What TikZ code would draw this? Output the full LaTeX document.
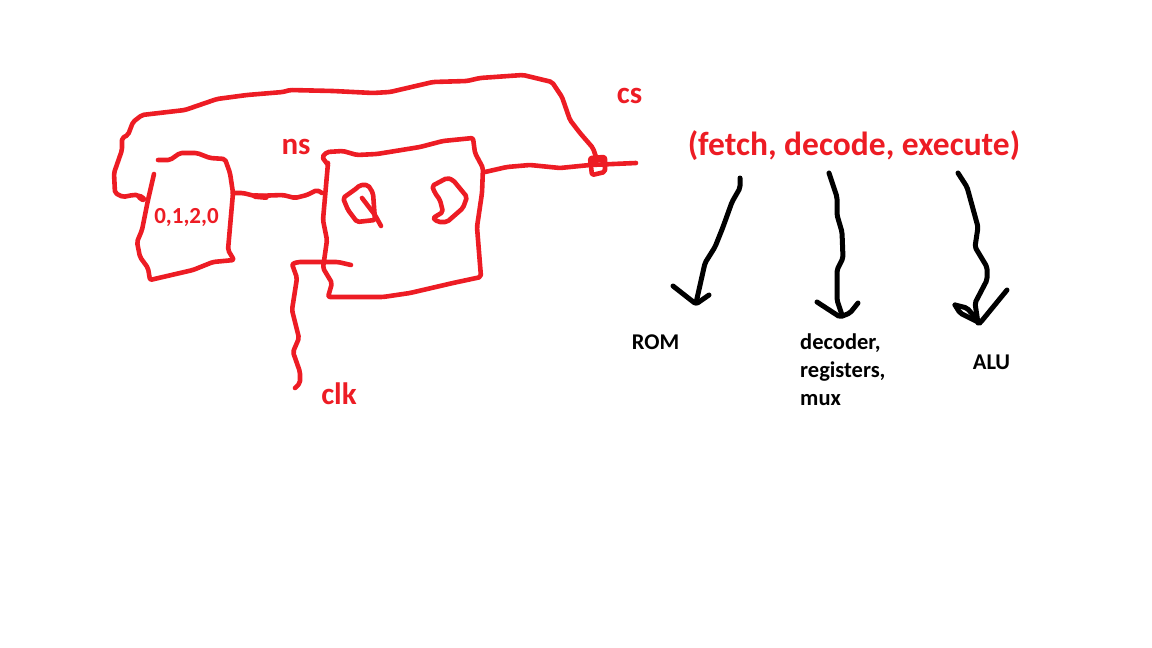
\documentclass[tikz,border=0pt]{standalone}
\usepackage{fontspec}
\setmainfont{Carlito}
\usetikzlibrary{positioning}

\definecolor{penred}{RGB}{237,28,36}

\begin{document}
\begin{tikzpicture}[x=1pt,y=-1pt,line cap=round,line join=round,rounded corners=2pt]

  \tikzstyle{redpen} = [draw=penred, line width=4.6pt]
  \tikzstyle{blackpen} = [draw=black, line width=5pt]
  \tikzstyle{redlabel} = [text=penred, inner sep=0pt]
  \tikzstyle{blacklabel} = [text=black, font=\fontsize{22.5}{28}\selectfont\bfseries, inner sep=0pt]

  \useasboundingbox (0,0) rectangle (1152,648);

  \coordinate (romIn)  at (143,199);
  \coordinate (romOut) at (233,193);
  \coordinate (ffIn)   at (322,193);
  \coordinate (ffOut)  at (485,172);
  \coordinate (knot)   at (596,157);
  \coordinate (wireEnd) at (636,163);
  \coordinate (clkIn)  at (351,265);
  \coordinate (clkEnd) at (295,388);

  % rom box
  \draw[redpen] (158,160) -- (170,160) -- (180,153) -- (197,153) -- (210,158) -- (225,159)
        -- (230,173) -- (romOut) -- (230,227) -- (228,250) -- (234,260) -- (213,262)
        -- (193,270) -- (150,280) -- (148,268) -- (140,257) -- (137,242) -- (142,230)
        -- (148,200) -- (154,174);

  % flip flop box
  \draw[redpen] (328,165) -- (322,157) -- (327,152) -- (343,151) -- (357,155) -- (377,154)
        -- (420,147) -- (443,141) -- (473,138) -- (475,153) -- (483,168) -- (482,193)
        -- (477,227) -- (481,277) -- (453,283) -- (410,293) -- (383,297) -- (328,297)
        -- (332,283) -- (323,268) -- (327,240) -- (323,220) -- (328,163);

  % Q
  \draw[redpen] (343,198) -- (357,188) -- (360,185) -- (368,185) -- (373,193) -- (375,220)
        -- (357,222) -- (348,210) -- cycle;
  \draw[redpen] (362,198) -- (375,215) -- (381,226);

  % D
  \draw[redpen] (432,186) -- (447,178) -- (453,180) -- (467,197) -- (463,208) -- (447,222)
        -- (438,222) -- (433,218) -- (443,212) -- (440,200) -- (435,193) -- cycle;

  % wires
  \draw[redpen] (romOut) -- (243,193) -- (255,196) -- (283,195) -- (295,198) -- (307,195)
        -- (317,190) -- (ffIn);
  \draw[redpen] (ffOut) -- (507,167) -- (530,165) -- (560,168) -- (590,165) -- (wireEnd);
  \draw[redpen] (clkIn) -- (338,262) -- (298,262) -- (292,264) -- (297,278) -- (292,310)
        -- (299,338) -- (293,352) -- (300,372) -- (300,383) -- (clkEnd);
  \draw[redpen] (knot) -- (593,148) -- (580,133) -- (570,120) -- (562,97) -- (552,82)
        -- (523,75) -- (480,78) -- (467,81) -- (433,82) -- (390,92) -- (373,93) -- (333,91)
        -- (290,90) -- (283,92) -- (247,95) -- (217,99) -- (185,110) -- (142,115)
        -- (133,122) -- (128,135) -- (122,138) -- (122,150) -- (114,173) -- (115,193)
        -- (123,197) -- (133,195) -- (138,195) -- (romIn);
  \draw[redpen] (590,158) -- (605,157) -- (605,172) -- (592,175) -- cycle;
  % pen blots
  \draw[redpen, line width=6.5pt] (140,197) -- (romIn);
  \draw[redpen, line width=6pt] (255,196) -- (266,197);
  \draw[redpen, line width=5.5pt] (592,161) -- (603,159);

  % arrows
  \draw[blackpen] (740,178) -- (740,188) -- (732,202) -- (723,227) -- (715,247) -- (705,263)
        -- (696,303);
  \draw[blackpen] (673,286) -- (687,297) -- (696,304) -- (709,295);
  \draw[blackpen] (829,173) -- (837,197) -- (837,215) -- (842,232) -- (843,258) -- (837,270)
        -- (837,300) -- (842,315);
  \draw[blackpen] (817,302) -- (840,317) -- (850,313) -- (858,303);
  \draw[blackpen] (958,173) -- (967,187) -- (978,227) -- (975,247) -- (987,267) -- (987,280)
        -- (975,303) -- (978,323);
  \draw[blackpen] (955,305) -- (960,313) -- (980,323) -- (1007,290);
  \draw[blackpen] (955,305) -- (967,308) -- (980,323);

  % labels
  \node[redlabel, font=\fontsize{31}{36}\selectfont\bfseries] (csLabel) at (629.5,96) {cs};
  \node[redlabel, font=\fontsize{31}{36}\selectfont\bfseries] (nsLabel) at (296,147) {ns};
  \node[redlabel, font=\fontsize{31}{36}\selectfont\bfseries] (clkLabel) at (339,394) {clk};
  \node[redlabel, font=\fontsize{23}{28}\selectfont\bfseries] (romData) at (186.5,218) {0,1,2,0};
  \node[redlabel, font=\fontsize{33.5}{40}\selectfont\bfseries] (stages) at (854,146) {(fetch, decode, execute)};
  \node[blacklabel] (romLabel) at (655.5,342) {ROM};
  \node[blacklabel, align=left, anchor=north west] (decLabel) at (800,334) {decoder,\\registers,\\mux};
  \node[blacklabel] (aluLabel) at (991.5,362) {ALU};
\end{tikzpicture}
\end{document}
